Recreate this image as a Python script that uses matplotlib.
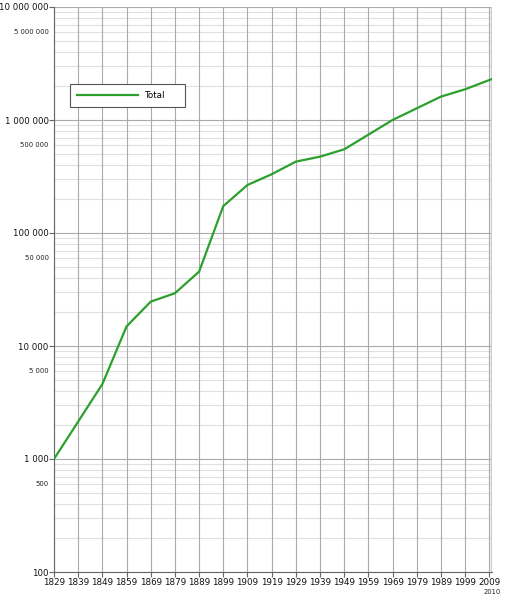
import matplotlib
matplotlib.use("Agg")
import matplotlib.pyplot as plt
from matplotlib.ticker import FixedLocator

years = [1829, 1849, 1859, 1869, 1879, 1889, 1899, 1909, 1919, 1929, 1939, 1949, 1969, 1989, 1999, 2010]
total = [1000, 4600, 14900, 24700, 29300, 45500, 173000, 266000, 331000, 428000, 474000, 550000,
         1000000, 1610000, 1870000, 2300000]
series_name = "Total"

x_ticks = list(range(1829, 2010, 10))
y_major = [100, 1000, 10000, 100000, 1000000, 10000000]
y_half = [500, 5000, 50000, 500000, 5000000]

def fmt(v):
    return f"{v:,}".replace(",", " ")

plt.rcParams['font.family'] = ['DejaVu Sans']
fig = plt.figure(figsize=(5.06, 6.0), dpi=100)
ax = fig.add_axes([54/506, 1-572/600, (491.7-54)/506, (572-7)/600])

ax.set_yscale('log')
ax.set_xlim(1829, 2010)
ax.set_ylim(100, 10000000)

# grid lines
minor_vals = [m * 10**e for e in range(2, 7) for m in range(2, 10)]
for v in minor_vals:
    ax.axhline(v, color='#e0e0e0', lw=0.8, zorder=0)
for v in y_major:
    ax.axhline(v, color='#aaaaaa', lw=0.8, zorder=1)
for xv in x_ticks + [2010]:
    ax.axvline(xv, color='#aaaaaa', lw=0.8, zorder=1)
ax.axvline(2010, color='#cccccc', lw=2.5, zorder=1)

ax.plot(years, total, color='#2ca02c', lw=1.6, label=series_name, zorder=3)

ax.yaxis.set_major_locator(FixedLocator(y_major))
ax.set_yticklabels([fmt(v) for v in y_major], fontsize=6.2, color='#111111')
ax.yaxis.set_minor_locator(FixedLocator([]))
for v in y_half:
    # the reference places these labels slightly above the half-decade line
    ax.text(-0.012, v * 1.2, fmt(v), transform=ax.get_yaxis_transform(), ha='right', va='center',
            fontsize=4.9, color='#222222')

ax.xaxis.set_major_locator(FixedLocator(x_ticks))
ax.set_xticklabels([str(t) for t in x_ticks], fontsize=6.3, color='#111111')
ax.text(2010, -0.03, "2010", transform=ax.get_xaxis_transform(), ha='center', va='top',
        fontsize=4.9, color='#222222')

ax.tick_params(axis='both', which='major', length=3.5, width=0.8, color='#666666', pad=1)
ax.tick_params(axis='y', which='major', pad=0.4)
for s in ['top', 'right']:
    ax.spines[s].set_visible(False)
for s in ['left', 'bottom']:
    ax.spines[s].set_color('#666666')
    ax.spines[s].set_linewidth(0.8)

x0 = (70-54)/437.7
w = (185-70)/437.7
ytop = (572-84)/565
leg = ax.legend(loc='upper left', bbox_to_anchor=(x0, ytop - 0.05, w, 0.05), mode='expand',
                fontsize=6.3, handlelength=7.0, handletextpad=0.7, borderpad=0.8,
                fancybox=False, framealpha=1, edgecolor='#555555', borderaxespad=0)
leg.get_frame().set_linewidth(0.8)

fig.savefig("out.png", dpi=100)
